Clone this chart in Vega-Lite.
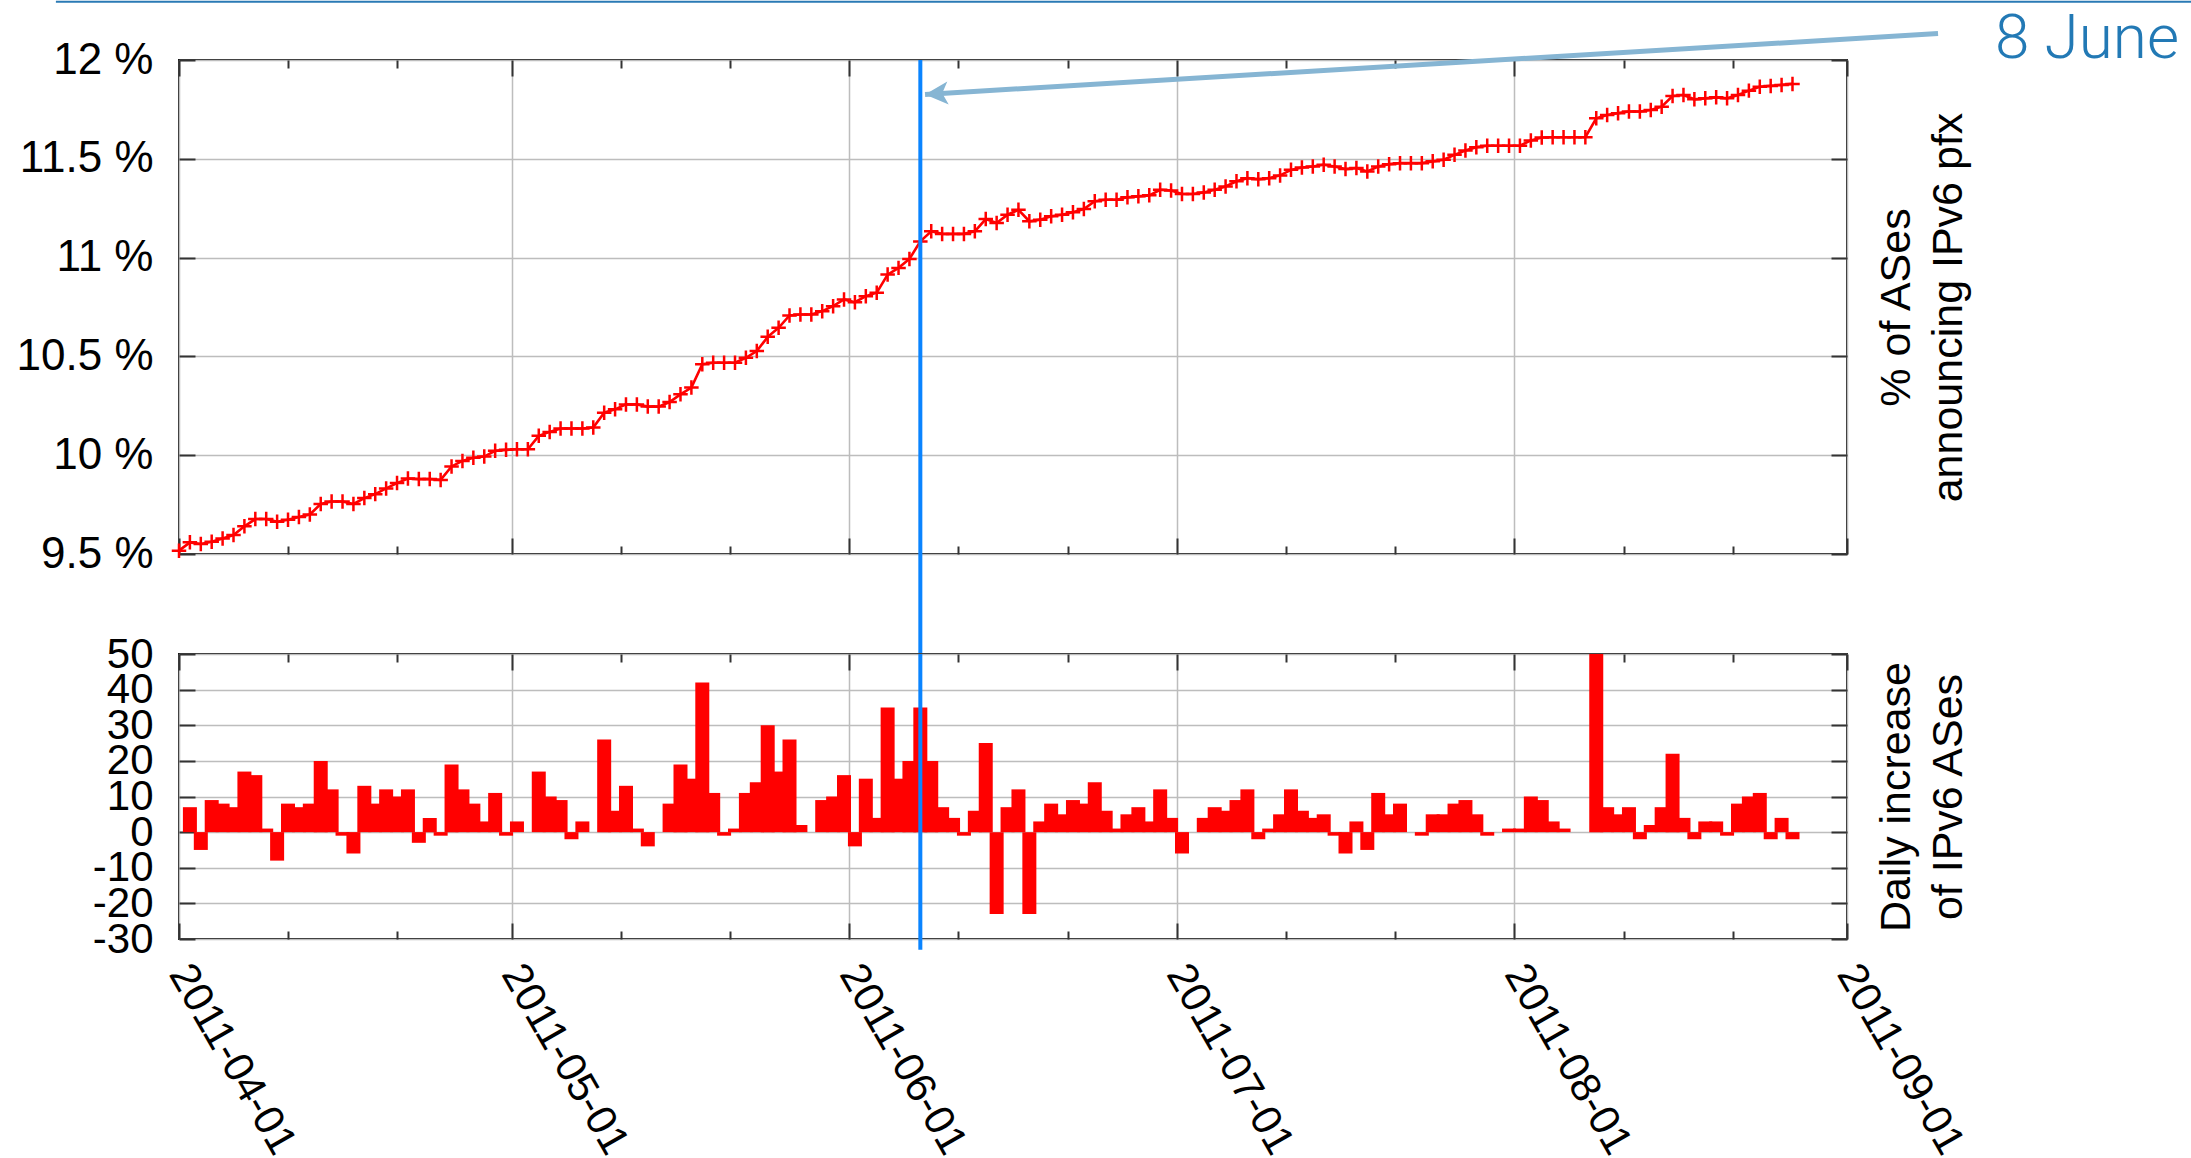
{
  "$schema": "https://vega.github.io/schema/vega-lite/v6.json",
  "background": "white",
  "autosize": {"type": "none"},
  "padding": {"left": 179, "top": 60, "right": 344, "bottom": 1098},
  "bounds": "flush",
  "spacing": 100,
  "config": {
    "view": {"stroke": "#1a1a1a", "strokeWidth": 2},
    "axis": {"labelFont": "Liberation Sans", "titleFont": "Liberation Sans", "labelColor": "black", "titleColor": "black"}
  },
  "datasets": {
    "pct": [
      {"date": "2011-04-01", "pct": 9.517}, {"date": "2011-04-02", "pct": 9.559}, {"date": "2011-04-03", "pct": 9.551}, {"date": "2011-04-04", "pct": 9.562},
      {"date": "2011-04-05", "pct": 9.579}, {"date": "2011-04-06", "pct": 9.596}, {"date": "2011-04-07", "pct": 9.640}, {"date": "2011-04-08", "pct": 9.677},
      {"date": "2011-04-09", "pct": 9.677}, {"date": "2011-04-10", "pct": 9.663}, {"date": "2011-04-11", "pct": 9.673}, {"date": "2011-04-12", "pct": 9.687},
      {"date": "2011-04-13", "pct": 9.700}, {"date": "2011-04-14", "pct": 9.753}, {"date": "2011-04-15", "pct": 9.766}, {"date": "2011-04-16", "pct": 9.766},
      {"date": "2011-04-17", "pct": 9.753}, {"date": "2011-04-18", "pct": 9.783}, {"date": "2011-04-19", "pct": 9.803}, {"date": "2011-04-20", "pct": 9.832},
      {"date": "2011-04-21", "pct": 9.859}, {"date": "2011-04-22", "pct": 9.882}, {"date": "2011-04-23", "pct": 9.879}, {"date": "2011-04-24", "pct": 9.879},
      {"date": "2011-04-25", "pct": 9.875}, {"date": "2011-04-26", "pct": 9.943}, {"date": "2011-04-27", "pct": 9.971}, {"date": "2011-04-28", "pct": 9.987},
      {"date": "2011-04-29", "pct": 9.993}, {"date": "2011-04-30", "pct": 10.022}, {"date": "2011-05-01", "pct": 10.027}, {"date": "2011-05-02", "pct": 10.030},
      {"date": "2011-05-03", "pct": 10.030}, {"date": "2011-05-04", "pct": 10.098}, {"date": "2011-05-05", "pct": 10.118}, {"date": "2011-05-06", "pct": 10.135},
      {"date": "2011-05-07", "pct": 10.135}, {"date": "2011-05-08", "pct": 10.135}, {"date": "2011-05-09", "pct": 10.140}, {"date": "2011-05-10", "pct": 10.215},
      {"date": "2011-05-11", "pct": 10.232}, {"date": "2011-05-12", "pct": 10.257}, {"date": "2011-05-13", "pct": 10.257}, {"date": "2011-05-14", "pct": 10.246},
      {"date": "2011-05-15", "pct": 10.246}, {"date": "2011-05-16", "pct": 10.269}, {"date": "2011-05-17", "pct": 10.308}, {"date": "2011-05-18", "pct": 10.342},
      {"date": "2011-05-19", "pct": 10.460}, {"date": "2011-05-20", "pct": 10.468}, {"date": "2011-05-21", "pct": 10.468}, {"date": "2011-05-22", "pct": 10.468},
      {"date": "2011-05-23", "pct": 10.493}, {"date": "2011-05-24", "pct": 10.527}, {"date": "2011-05-25", "pct": 10.599}, {"date": "2011-05-26", "pct": 10.645},
      {"date": "2011-05-27", "pct": 10.707}, {"date": "2011-05-28", "pct": 10.712}, {"date": "2011-05-29", "pct": 10.712}, {"date": "2011-05-30", "pct": 10.729},
      {"date": "2011-05-31", "pct": 10.754}, {"date": "2011-06-01", "pct": 10.788}, {"date": "2011-06-02", "pct": 10.774}, {"date": "2011-06-03", "pct": 10.805},
      {"date": "2011-06-04", "pct": 10.822}, {"date": "2011-06-05", "pct": 10.914}, {"date": "2011-06-06", "pct": 10.948}, {"date": "2011-06-07", "pct": 10.993},
      {"date": "2011-06-08", "pct": 11.082}, {"date": "2011-06-09", "pct": 11.133}, {"date": "2011-06-10", "pct": 11.120}, {"date": "2011-06-11", "pct": 11.120},
      {"date": "2011-06-12", "pct": 11.120}, {"date": "2011-06-13", "pct": 11.133}, {"date": "2011-06-14", "pct": 11.195}, {"date": "2011-06-15", "pct": 11.175},
      {"date": "2011-06-16", "pct": 11.217}, {"date": "2011-06-17", "pct": 11.242}, {"date": "2011-06-18", "pct": 11.184}, {"date": "2011-06-19", "pct": 11.192},
      {"date": "2011-06-20", "pct": 11.209}, {"date": "2011-06-21", "pct": 11.217}, {"date": "2011-06-22", "pct": 11.229}, {"date": "2011-06-23", "pct": 11.246},
      {"date": "2011-06-24", "pct": 11.285}, {"date": "2011-06-25", "pct": 11.293}, {"date": "2011-06-26", "pct": 11.293}, {"date": "2011-06-27", "pct": 11.305},
      {"date": "2011-06-28", "pct": 11.310}, {"date": "2011-06-29", "pct": 11.315}, {"date": "2011-06-30", "pct": 11.343}, {"date": "2011-07-01", "pct": 11.340},
      {"date": "2011-07-02", "pct": 11.322}, {"date": "2011-07-03", "pct": 11.322}, {"date": "2011-07-04", "pct": 11.330}, {"date": "2011-07-05", "pct": 11.343},
      {"date": "2011-07-06", "pct": 11.360}, {"date": "2011-07-07", "pct": 11.386}, {"date": "2011-07-08", "pct": 11.402}, {"date": "2011-07-09", "pct": 11.397},
      {"date": "2011-07-10", "pct": 11.402}, {"date": "2011-07-11", "pct": 11.416}, {"date": "2011-07-12", "pct": 11.444}, {"date": "2011-07-13", "pct": 11.456},
      {"date": "2011-07-14", "pct": 11.461}, {"date": "2011-07-15", "pct": 11.470}, {"date": "2011-07-16", "pct": 11.461}, {"date": "2011-07-17", "pct": 11.448},
      {"date": "2011-07-18", "pct": 11.453}, {"date": "2011-07-19", "pct": 11.436}, {"date": "2011-07-20", "pct": 11.461}, {"date": "2011-07-21", "pct": 11.473},
      {"date": "2011-07-22", "pct": 11.478}, {"date": "2011-07-23", "pct": 11.478}, {"date": "2011-07-24", "pct": 11.478}, {"date": "2011-07-25", "pct": 11.487},
      {"date": "2011-07-26", "pct": 11.495}, {"date": "2011-07-27", "pct": 11.520}, {"date": "2011-07-28", "pct": 11.542}, {"date": "2011-07-29", "pct": 11.559},
      {"date": "2011-07-30", "pct": 11.566}, {"date": "2011-07-31", "pct": 11.566}, {"date": "2011-08-01", "pct": 11.566}, {"date": "2011-08-02", "pct": 11.566},
      {"date": "2011-08-03", "pct": 11.593}, {"date": "2011-08-04", "pct": 11.608}, {"date": "2011-08-05", "pct": 11.609}, {"date": "2011-08-06", "pct": 11.609},
      {"date": "2011-08-07", "pct": 11.609}, {"date": "2011-08-08", "pct": 11.609}, {"date": "2011-08-09", "pct": 11.705}, {"date": "2011-08-10", "pct": 11.722},
      {"date": "2011-08-11", "pct": 11.731}, {"date": "2011-08-12", "pct": 11.739}, {"date": "2011-08-13", "pct": 11.739}, {"date": "2011-08-14", "pct": 11.747},
      {"date": "2011-08-15", "pct": 11.764}, {"date": "2011-08-16", "pct": 11.818}, {"date": "2011-08-17", "pct": 11.823}, {"date": "2011-08-18", "pct": 11.801},
      {"date": "2011-08-19", "pct": 11.806}, {"date": "2011-08-20", "pct": 11.811}, {"date": "2011-08-21", "pct": 11.806}, {"date": "2011-08-22", "pct": 11.823},
      {"date": "2011-08-23", "pct": 11.845}, {"date": "2011-08-24", "pct": 11.865}, {"date": "2011-08-25", "pct": 11.869}, {"date": "2011-08-26", "pct": 11.874},
      {"date": "2011-08-27", "pct": 11.879}
    ],
    "inc": [
      {"date": "2011-04-02", "inc": 7}, {"date": "2011-04-03", "inc": -5}, {"date": "2011-04-04", "inc": 9}, {"date": "2011-04-05", "inc": 8},
      {"date": "2011-04-06", "inc": 7}, {"date": "2011-04-07", "inc": 17}, {"date": "2011-04-08", "inc": 16}, {"date": "2011-04-09", "inc": 1},
      {"date": "2011-04-10", "inc": -8}, {"date": "2011-04-11", "inc": 8}, {"date": "2011-04-12", "inc": 7}, {"date": "2011-04-13", "inc": 8},
      {"date": "2011-04-14", "inc": 20}, {"date": "2011-04-15", "inc": 12}, {"date": "2011-04-16", "inc": -1}, {"date": "2011-04-17", "inc": -6},
      {"date": "2011-04-18", "inc": 13}, {"date": "2011-04-19", "inc": 8}, {"date": "2011-04-20", "inc": 12}, {"date": "2011-04-21", "inc": 10},
      {"date": "2011-04-22", "inc": 12}, {"date": "2011-04-23", "inc": -3}, {"date": "2011-04-24", "inc": 4}, {"date": "2011-04-25", "inc": -1},
      {"date": "2011-04-26", "inc": 19}, {"date": "2011-04-27", "inc": 12}, {"date": "2011-04-28", "inc": 8}, {"date": "2011-04-29", "inc": 3},
      {"date": "2011-04-30", "inc": 11}, {"date": "2011-05-01", "inc": -1}, {"date": "2011-05-02", "inc": 3}, {"date": "2011-05-03", "inc": 0},
      {"date": "2011-05-04", "inc": 17}, {"date": "2011-05-05", "inc": 10}, {"date": "2011-05-06", "inc": 9}, {"date": "2011-05-07", "inc": -2},
      {"date": "2011-05-08", "inc": 3}, {"date": "2011-05-09", "inc": 0}, {"date": "2011-05-10", "inc": 26}, {"date": "2011-05-11", "inc": 6},
      {"date": "2011-05-12", "inc": 13}, {"date": "2011-05-13", "inc": 1}, {"date": "2011-05-14", "inc": -4}, {"date": "2011-05-15", "inc": 0},
      {"date": "2011-05-16", "inc": 8}, {"date": "2011-05-17", "inc": 19}, {"date": "2011-05-18", "inc": 15}, {"date": "2011-05-19", "inc": 42},
      {"date": "2011-05-20", "inc": 11}, {"date": "2011-05-21", "inc": -1}, {"date": "2011-05-22", "inc": 1}, {"date": "2011-05-23", "inc": 11},
      {"date": "2011-05-24", "inc": 14}, {"date": "2011-05-25", "inc": 30}, {"date": "2011-05-26", "inc": 17}, {"date": "2011-05-27", "inc": 26},
      {"date": "2011-05-28", "inc": 2}, {"date": "2011-05-29", "inc": 0}, {"date": "2011-05-30", "inc": 9}, {"date": "2011-05-31", "inc": 10},
      {"date": "2011-06-01", "inc": 16}, {"date": "2011-06-02", "inc": -4}, {"date": "2011-06-03", "inc": 15}, {"date": "2011-06-04", "inc": 4},
      {"date": "2011-06-05", "inc": 35}, {"date": "2011-06-06", "inc": 15}, {"date": "2011-06-07", "inc": 20}, {"date": "2011-06-08", "inc": 35},
      {"date": "2011-06-09", "inc": 20}, {"date": "2011-06-10", "inc": 7}, {"date": "2011-06-11", "inc": 4}, {"date": "2011-06-12", "inc": -1},
      {"date": "2011-06-13", "inc": 6}, {"date": "2011-06-14", "inc": 25}, {"date": "2011-06-15", "inc": -23}, {"date": "2011-06-16", "inc": 7},
      {"date": "2011-06-17", "inc": 12}, {"date": "2011-06-18", "inc": -23}, {"date": "2011-06-19", "inc": 3}, {"date": "2011-06-20", "inc": 8},
      {"date": "2011-06-21", "inc": 5}, {"date": "2011-06-22", "inc": 9}, {"date": "2011-06-23", "inc": 8}, {"date": "2011-06-24", "inc": 14},
      {"date": "2011-06-25", "inc": 6}, {"date": "2011-06-26", "inc": 1}, {"date": "2011-06-27", "inc": 5}, {"date": "2011-06-28", "inc": 7},
      {"date": "2011-06-29", "inc": 3}, {"date": "2011-06-30", "inc": 12}, {"date": "2011-07-01", "inc": 4}, {"date": "2011-07-02", "inc": -6},
      {"date": "2011-07-03", "inc": 0}, {"date": "2011-07-04", "inc": 4}, {"date": "2011-07-05", "inc": 7}, {"date": "2011-07-06", "inc": 6},
      {"date": "2011-07-07", "inc": 9}, {"date": "2011-07-08", "inc": 12}, {"date": "2011-07-09", "inc": -2}, {"date": "2011-07-10", "inc": 1},
      {"date": "2011-07-11", "inc": 5}, {"date": "2011-07-12", "inc": 12}, {"date": "2011-07-13", "inc": 6}, {"date": "2011-07-14", "inc": 4},
      {"date": "2011-07-15", "inc": 5}, {"date": "2011-07-16", "inc": -1}, {"date": "2011-07-17", "inc": -6}, {"date": "2011-07-18", "inc": 3},
      {"date": "2011-07-19", "inc": -5}, {"date": "2011-07-20", "inc": 11}, {"date": "2011-07-21", "inc": 5}, {"date": "2011-07-22", "inc": 8},
      {"date": "2011-07-23", "inc": 0}, {"date": "2011-07-24", "inc": -1}, {"date": "2011-07-25", "inc": 5}, {"date": "2011-07-26", "inc": 5},
      {"date": "2011-07-27", "inc": 8}, {"date": "2011-07-28", "inc": 9}, {"date": "2011-07-29", "inc": 5}, {"date": "2011-07-30", "inc": -1},
      {"date": "2011-07-31", "inc": 0}, {"date": "2011-08-01", "inc": 1}, {"date": "2011-08-02", "inc": 1}, {"date": "2011-08-03", "inc": 10},
      {"date": "2011-08-04", "inc": 9}, {"date": "2011-08-05", "inc": 3}, {"date": "2011-08-06", "inc": 1}, {"date": "2011-08-07", "inc": 0},
      {"date": "2011-08-08", "inc": 0}, {"date": "2011-08-09", "inc": 50}, {"date": "2011-08-10", "inc": 7}, {"date": "2011-08-11", "inc": 5},
      {"date": "2011-08-12", "inc": 7}, {"date": "2011-08-13", "inc": -2}, {"date": "2011-08-14", "inc": 2}, {"date": "2011-08-15", "inc": 7},
      {"date": "2011-08-16", "inc": 22}, {"date": "2011-08-17", "inc": 4}, {"date": "2011-08-18", "inc": -2}, {"date": "2011-08-19", "inc": 3},
      {"date": "2011-08-20", "inc": 3}, {"date": "2011-08-21", "inc": -1}, {"date": "2011-08-22", "inc": 8}, {"date": "2011-08-23", "inc": 10},
      {"date": "2011-08-24", "inc": 11}, {"date": "2011-08-25", "inc": -2}, {"date": "2011-08-26", "inc": 4}, {"date": "2011-08-27", "inc": -2}
    ],
    "vtop": [{"date": "2011-06-08", "y1": 12, "y2": 8.99}],
    "vbot": [{"date": "2011-06-08", "y1": 50, "y2": -33}],
    "arrow": [{"date": "2011-06-08T10:20:00Z", "date2": "2011-09-09T08:24:00Z", "v": 11.826, "v2": 12.134}],
    "head": [{"date": "2011-06-08T10:20:00Z", "v": 11.826}],
    "label": [{"date": "2011-09-14T14:00:00Z", "v": 12.01, "text": "8 June"}],
    "header": [{"date": "2011-03-20T17:00:00Z", "date2": "2011-10-03T00:00:00Z", "v": 12.295}]
  },
  "vconcat": [
    {
      "width": 1668,
      "height": 494,
      "resolve": {"axis": {"x": "independent", "y": "independent"}},
      "layer": [
        {
          "data": {"name": "pct"},
          "mark": {"type": "line", "color": "#ff0000", "strokeWidth": 2.6,
                   "point": {"shape": "M-1,0H1M0,-1V1", "filled": false, "size": 210, "color": "#ff0000", "strokeWidth": 2.5}},
          "encoding": {
            "x": {"field": "date", "type": "temporal",
                  "scale": {"type": "utc", "nice": false, "padding": 0, "domain": [{"year": 2011, "month": 4, "date": 1, "utc": true}, {"year": 2011, "month": 9, "date": 1, "utc": true}]},
                  "axis": {"orient": "bottom", "title": null, "labels": false, "domain": false,
                           "values": [{"year": 2011, "month": 4, "date": 1, "utc": true}, {"year": 2011, "month": 4, "date": 11, "utc": true}, {"year": 2011, "month": 4, "date": 21, "utc": true},
                                      {"year": 2011, "month": 5, "date": 1, "hours": 12, "utc": true}, {"year": 2011, "month": 5, "date": 11, "hours": 12, "utc": true}, {"year": 2011, "month": 5, "date": 21, "hours": 12, "utc": true},
                                      {"year": 2011, "month": 6, "date": 1, "hours": 12, "utc": true}, {"year": 2011, "month": 6, "date": 11, "hours": 12, "utc": true}, {"year": 2011, "month": 6, "date": 21, "hours": 12, "utc": true},
                                      {"year": 2011, "month": 7, "date": 1, "hours": 12, "utc": true}, {"year": 2011, "month": 7, "date": 11, "hours": 12, "utc": true}, {"year": 2011, "month": 7, "date": 21, "hours": 12, "utc": true},
                                      {"year": 2011, "month": 8, "date": 1, "hours": 12, "utc": true}, {"year": 2011, "month": 8, "date": 11, "hours": 12, "utc": true}, {"year": 2011, "month": 8, "date": 21, "hours": 12, "utc": true},
                                      {"year": 2011, "month": 9, "date": 1, "utc": true}],
                           "grid": true, "gridColor": "#bdbdbd", "gridWidth": 1.5,
                           "gridOpacity": {"condition": {"test": "utcdate(datum.value) == 1", "value": 1}, "value": 0},
                           "tickSize": {"condition": {"test": "utcdate(datum.value) == 1", "value": -16}, "value": -8},
                           "tickColor": "#333333", "tickWidth": 2}},
            "y": {"field": "pct", "type": "quantitative",
                  "scale": {"domain": [9.5, 12], "zero": false, "nice": false},
                  "axis": {"orient": "left", "title": null, "domain": false, "values": [9.5, 10, 10.5, 11, 11.5, 12],
                           "labelExpr": "datum.value + ' %'", "labelFontSize": 44, "labelPadding": 42, "labelFlush": false, "labelOverlap": false,
                           "labelAlign": "right", "labelBaseline": "middle",
                           "grid": true, "gridColor": "#bdbdbd", "gridWidth": 1.5,
                           "tickSize": -16, "tickColor": "#333333", "tickWidth": 2}}
          }
        },
        {
          "data": {"name": "vtop"},
          "mark": {"type": "rule", "color": "#0a84ff", "strokeWidth": 4},
          "encoding": {
            "x": {"field": "date", "type": "temporal",
                  "scale": {"type": "utc", "nice": false, "padding": 0, "domain": [{"year": 2011, "month": 4, "date": 1, "utc": true}, {"year": 2011, "month": 9, "date": 1, "utc": true}]},
                  "axis": {"orient": "top", "title": null, "labels": false, "domain": false, "grid": false,
                           "values": [{"year": 2011, "month": 4, "date": 1, "utc": true}, {"year": 2011, "month": 4, "date": 11, "utc": true}, {"year": 2011, "month": 4, "date": 21, "utc": true},
                                      {"year": 2011, "month": 5, "date": 1, "hours": 12, "utc": true}, {"year": 2011, "month": 5, "date": 11, "hours": 12, "utc": true}, {"year": 2011, "month": 5, "date": 21, "hours": 12, "utc": true},
                                      {"year": 2011, "month": 6, "date": 1, "hours": 12, "utc": true}, {"year": 2011, "month": 6, "date": 11, "hours": 12, "utc": true}, {"year": 2011, "month": 6, "date": 21, "hours": 12, "utc": true},
                                      {"year": 2011, "month": 7, "date": 1, "hours": 12, "utc": true}, {"year": 2011, "month": 7, "date": 11, "hours": 12, "utc": true}, {"year": 2011, "month": 7, "date": 21, "hours": 12, "utc": true},
                                      {"year": 2011, "month": 8, "date": 1, "hours": 12, "utc": true}, {"year": 2011, "month": 8, "date": 11, "hours": 12, "utc": true}, {"year": 2011, "month": 8, "date": 21, "hours": 12, "utc": true},
                                      {"year": 2011, "month": 9, "date": 1, "utc": true}],
                           "tickSize": {"condition": {"test": "utcdate(datum.value) == 1", "value": -16}, "value": -8},
                           "tickColor": "#333333", "tickWidth": 2}},
            "y": {"field": "y1", "type": "quantitative",
                  "scale": {"domain": [9.5, 12], "zero": false, "nice": false},
                  "axis": {"orient": "right", "domain": false, "grid": false, "labels": false, "values": [9.5, 10, 10.5, 11, 11.5, 12],
                           "tickSize": -16, "tickColor": "#333333", "tickWidth": 2,
                           "title": ["% of ASes", "announcing IPv6 pfx"], "titleAngle": 270, "titleBaseline": "top",
                           "titleFontSize": 43, "titleFontWeight": "normal", "titlePadding": -25, "titleLineHeight": 52}},
            "y2": {"field": "y2"}
          }
        },
        {
          "data": {"name": "arrow"},
          "mark": {"type": "rule", "color": "#86b5d3", "strokeWidth": 5},
          "encoding": {
            "x": {"field": "date", "type": "temporal", "axis": null},
            "x2": {"field": "date2"},
            "y": {"field": "v", "type": "quantitative", "axis": null},
            "y2": {"field": "v2"}
          }
        },
        {
          "data": {"name": "head"},
          "mark": {"type": "point", "shape": "M0,0L2,-1L1.5,0L2,1Z", "filled": true, "color": "#86b5d3", "opacity": 1, "size": 530, "angle": -3.5},
          "encoding": {
            "x": {"field": "date", "type": "temporal", "axis": null},
            "y": {"field": "v", "type": "quantitative", "axis": null}
          }
        },
        {
          "data": {"name": "label"},
          "mark": {"type": "text", "align": "left", "baseline": "alphabetic", "font": "Roboto", "fontWeight": 300, "fontSize": 62, "color": "#2279b5"},
          "encoding": {
            "x": {"field": "date", "type": "temporal", "axis": null},
            "y": {"field": "v", "type": "quantitative", "axis": null},
            "text": {"field": "text"}
          }
        },
        {
          "data": {"name": "header"},
          "mark": {"type": "rule", "color": "#2a7ab5", "strokeWidth": 2},
          "encoding": {
            "x": {"field": "date", "type": "temporal", "axis": null},
            "x2": {"field": "date2"},
            "y": {"field": "v", "type": "quantitative", "axis": null}
          }
        }
      ]
    },
    {
      "width": 1668,
      "height": 285,
      "resolve": {"axis": {"x": "independent", "y": "independent"}},
      "layer": [
        {
          "data": {"name": "inc"},
          "mark": {"type": "bar", "color": "#ff0000", "size": 14},
          "encoding": {
            "x": {"field": "date", "type": "temporal",
                  "scale": {"type": "utc", "nice": false, "padding": 0, "domain": [{"year": 2011, "month": 4, "date": 1, "utc": true}, {"year": 2011, "month": 9, "date": 1, "utc": true}]},
                  "axis": {"orient": "bottom", "title": null, "domain": false,
                           "values": [{"year": 2011, "month": 4, "date": 1, "utc": true}, {"year": 2011, "month": 4, "date": 11, "utc": true}, {"year": 2011, "month": 4, "date": 21, "utc": true},
                                      {"year": 2011, "month": 5, "date": 1, "hours": 12, "utc": true}, {"year": 2011, "month": 5, "date": 11, "hours": 12, "utc": true}, {"year": 2011, "month": 5, "date": 21, "hours": 12, "utc": true},
                                      {"year": 2011, "month": 6, "date": 1, "hours": 12, "utc": true}, {"year": 2011, "month": 6, "date": 11, "hours": 12, "utc": true}, {"year": 2011, "month": 6, "date": 21, "hours": 12, "utc": true},
                                      {"year": 2011, "month": 7, "date": 1, "hours": 12, "utc": true}, {"year": 2011, "month": 7, "date": 11, "hours": 12, "utc": true}, {"year": 2011, "month": 7, "date": 21, "hours": 12, "utc": true},
                                      {"year": 2011, "month": 8, "date": 1, "hours": 12, "utc": true}, {"year": 2011, "month": 8, "date": 11, "hours": 12, "utc": true}, {"year": 2011, "month": 8, "date": 21, "hours": 12, "utc": true},
                                      {"year": 2011, "month": 9, "date": 1, "utc": true}],
                           "labelExpr": "utcdate(datum.value) == 1 ? utcFormat(datum.value, '%Y-%m-%d') : ''",
                           "labelAngle": 60, "labelAlign": "left", "labelBaseline": "middle", "labelFontSize": 42,
                           "labelPadding": 44, "labelLimit": 0, "labelFlush": false, "labelOverlap": false, "labelBound": false,
                           "grid": true, "gridColor": "#bdbdbd", "gridWidth": 1.5,
                           "gridOpacity": {"condition": {"test": "utcdate(datum.value) == 1", "value": 1}, "value": 0},
                           "tickSize": {"condition": {"test": "utcdate(datum.value) == 1", "value": -16}, "value": -8},
                           "tickColor": "#333333", "tickWidth": 2}},
            "y": {"field": "inc", "type": "quantitative",
                  "scale": {"domain": [-30, 50], "nice": false},
                  "axis": {"orient": "left", "title": null, "domain": false, "values": [-30, -20, -10, 0, 10, 20, 30, 40, 50],
                           "labelExpr": "'' + datum.value", "labelFontSize": 42, "labelPadding": 42, "labelFlush": false, "labelOverlap": false,
                           "labelAlign": "right", "labelBaseline": "middle",
                           "grid": true, "gridColor": "#bdbdbd", "gridWidth": 1.5,
                           "tickSize": -16, "tickColor": "#333333", "tickWidth": 2}}
          }
        },
        {
          "data": {"name": "vbot"},
          "mark": {"type": "rule", "color": "#0a84ff", "strokeWidth": 4},
          "encoding": {
            "x": {"field": "date", "type": "temporal",
                  "scale": {"type": "utc", "nice": false, "padding": 0, "domain": [{"year": 2011, "month": 4, "date": 1, "utc": true}, {"year": 2011, "month": 9, "date": 1, "utc": true}]},
                  "axis": {"orient": "top", "title": null, "labels": false, "domain": false, "grid": false,
                           "values": [{"year": 2011, "month": 4, "date": 1, "utc": true}, {"year": 2011, "month": 4, "date": 11, "utc": true}, {"year": 2011, "month": 4, "date": 21, "utc": true},
                                      {"year": 2011, "month": 5, "date": 1, "hours": 12, "utc": true}, {"year": 2011, "month": 5, "date": 11, "hours": 12, "utc": true}, {"year": 2011, "month": 5, "date": 21, "hours": 12, "utc": true},
                                      {"year": 2011, "month": 6, "date": 1, "hours": 12, "utc": true}, {"year": 2011, "month": 6, "date": 11, "hours": 12, "utc": true}, {"year": 2011, "month": 6, "date": 21, "hours": 12, "utc": true},
                                      {"year": 2011, "month": 7, "date": 1, "hours": 12, "utc": true}, {"year": 2011, "month": 7, "date": 11, "hours": 12, "utc": true}, {"year": 2011, "month": 7, "date": 21, "hours": 12, "utc": true},
                                      {"year": 2011, "month": 8, "date": 1, "hours": 12, "utc": true}, {"year": 2011, "month": 8, "date": 11, "hours": 12, "utc": true}, {"year": 2011, "month": 8, "date": 21, "hours": 12, "utc": true},
                                      {"year": 2011, "month": 9, "date": 1, "utc": true}],
                           "tickSize": {"condition": {"test": "utcdate(datum.value) == 1", "value": -16}, "value": -8},
                           "tickColor": "#333333", "tickWidth": 2}},
            "y": {"field": "y1", "type": "quantitative",
                  "scale": {"domain": [-30, 50], "nice": false},
                  "axis": {"orient": "right", "domain": false, "grid": false, "labels": false, "values": [-30, -20, -10, 0, 10, 20, 30, 40, 50],
                           "tickSize": -16, "tickColor": "#333333", "tickWidth": 2,
                           "title": ["Daily increase", "of IPv6 ASes"], "titleAngle": 270, "titleBaseline": "top",
                           "titleFontSize": 43, "titleFontWeight": "normal", "titlePadding": -25, "titleLineHeight": 52}},
            "y2": {"field": "y2"}
          }
        }
      ]
    }
  ]
}
